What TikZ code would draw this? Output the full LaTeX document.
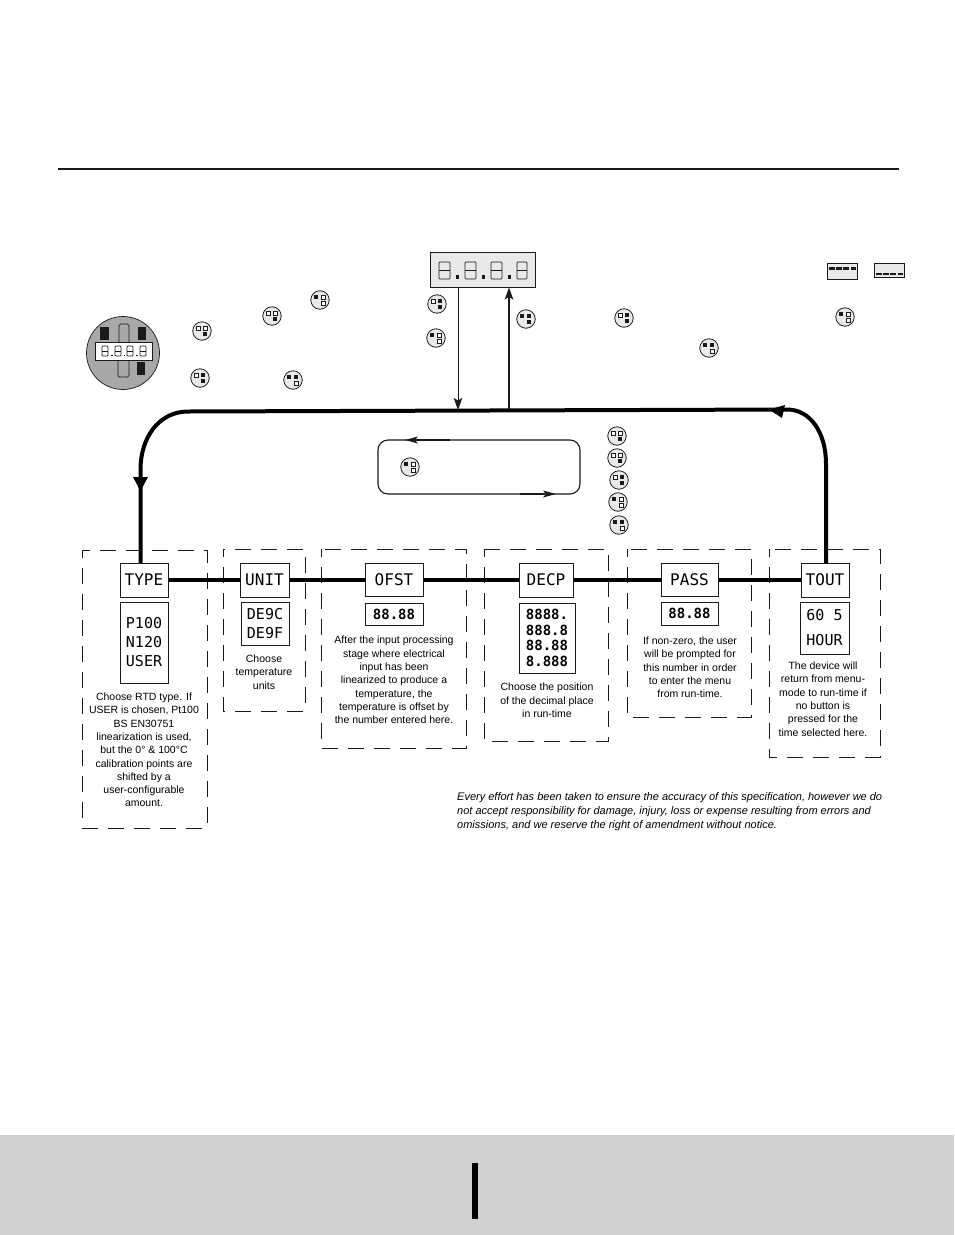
\documentclass[tikz,border=0pt]{standalone}
\usepackage{fontspec}
\setmainfont{Liberation Sans}
\newfontfamily\lcdfont{DejaVu Sans Mono}
\usetikzlibrary{arrows.meta}
\definecolor{panel}{HTML}{E9E9E9}
\definecolor{dial}{HTML}{A8A8A8}
\definecolor{band}{HTML}{D1D1D1}
\definecolor{ink}{HTML}{1A1A1A}
\tikzset{
  ruleline/.style={draw=ink,line width=1.6pt},
  menubox/.style={draw=ink,line width=1pt,inner sep=0pt,font=\lcdfont\fontsize{16}{16}\selectfont},
  valuebox/.style={draw=ink,line width=1pt,inner sep=0pt,align=center,font=\lcdfont\fontsize{15}{19}\selectfont},
  groupbox/.style={draw=ink,line width=.8pt,dash pattern=on 16pt off 10pt,dash phase=8pt},
  note/.style={inner sep=0pt,align=center,text=black,font=\fontsize{10.5}{13.3}\selectfont},
  flow/.style={draw=black,line width=4pt},
  solidtip/.style={-{Stealth[length=12pt,width=8.5pt,inset=2.5pt]}},
  keyring/.style={draw=ink,line width=.8pt,fill=panel},
  keyon/.style={fill=ink},
  keyoff/.style={fill=white,draw=ink,line width=.7pt},
  seg/.style={draw=ink,line width=.75pt},
}
% keypad icon: name, centre, then the state of the upper left, upper right and lower right keys
\newcommand{\keyicon}[6]{%
  \node[keyring,circle,minimum size=18.5pt,inner sep=0pt] (#1) at (#2,#3) {};
  \path[#4] (#2-6,#3-4.7) rectangle (#2-1.7,#3-.8);
  \path[#5] (#2+1.3,#3-4.7) rectangle (#2+5.3,#3-.8);
  \path[#6] (#2+1.3,#3+1.3) rectangle (#2+5.3,#3+5.3);
}
% hollow seven-segment eight: left, top, width, height
\newcommand{\hollowdigit}[4]{%
  \draw[seg,rounded corners=.8pt] (#1,#2) rectangle (#1+#3,#2+#4);
  \draw[seg] (#1,#2+#4/2) -- (#1+#3,#2+#4/2);
}
\begin{document}
\begin{tikzpicture}[x=1pt,y=-1pt]
\useasboundingbox (0,0) rectangle (954,1235);
\fill[white] (0,0) rectangle (954,1235);

% page furniture
\draw[ruleline] (58,169) -- (899,169);
\fill[band] (0,1135) rectangle (954,1235);
\fill[black] (472,1163) rectangle (478,1219);

% main display
\node[draw=ink,fill=panel,line width=.8pt,minimum width=105pt,minimum height=35pt,inner sep=0pt] (display) at (482.5,269.5) {};
\hollowdigit{439}{262}{11}{17}
\hollowdigit{465}{262}{11}{17}
\hollowdigit{491}{262}{11}{17}
\hollowdigit{517}{262}{10}{17}
\fill[ink] (456,275) rectangle (459,279);
\fill[ink] (482,275) rectangle (485,279);
\fill[ink] (508,275) rectangle (511,279);

% segment test displays
\node[draw=ink,fill=panel,line width=.8pt,minimum width=30pt,minimum height=16pt,inner sep=0pt] (testa) at (842,271) {};
\node[draw=ink,fill=panel,line width=.8pt,minimum width=30pt,minimum height=14pt,inner sep=0pt] (testb) at (889,270) {};
\draw[ink,line width=3pt,dash pattern=on 6pt off 1.2pt] (829,268) -- (856,268);
\draw[ink,line width=1.4pt,dash pattern=on 6pt off 1.2pt] (876,274) -- (903,274);

% front panel dial
\node[circle,draw=ink,fill=dial,line width=.7pt,minimum size=73pt,inner sep=0pt] (dialface) at (123,353) {};
\fill[ink] (100,327) rectangle (109,340);
\fill[ink] (138,327) rectangle (146,340);
\fill[ink] (137,362) rectangle (145,375);
\draw[ink,line width=.7pt,rounded corners=1.5pt] (119,324) rectangle (129,344);
\draw[ink,line width=.7pt,rounded corners=1.5pt] (118,358) rectangle (129,377);
\node[draw=ink,fill=white,line width=.8pt,minimum width=57pt,minimum height=18pt,inner sep=0pt] (dialread) at (123.5,351) {};
\hollowdigit{102}{346}{6}{10}
\hollowdigit{115}{346}{6}{10}
\hollowdigit{127}{346}{6}{10}
\hollowdigit{140}{346}{6}{10}
\fill[ink] (111,354.5) rectangle (112.5,356);
\fill[ink] (123.5,354.5) rectangle (125,356);
\fill[ink] (136,354.5) rectangle (137.5,356);

% keypad icons around the displays
\keyicon{ka}{202}{331}{keyoff}{keyoff}{keyon}
\keyicon{kb}{272}{316}{keyoff}{keyoff}{keyon}
\keyicon{kc}{320}{300}{keyon}{keyoff}{keyoff}
\keyicon{kd}{437}{304}{keyoff}{keyon}{keyon}
\keyicon{ke}{436}{338}{keyon}{keyoff}{keyoff}
\keyicon{kf}{200}{378}{keyoff}{keyon}{keyon}
\keyicon{kg}{293}{380}{keyon}{keyon}{keyoff}
\keyicon{kh}{526}{319}{keyon}{keyon}{keyon}
\keyicon{ki}{624}{318}{keyoff}{keyon}{keyon}
\keyicon{kj}{845}{317}{keyon}{keyoff}{keyoff}
\keyicon{kk}{709}{348}{keyon}{keyon}{keyoff}
\keyicon{kl}{410}{467}{keyon}{keyoff}{keyoff}
\keyicon{km}{617}{436}{keyoff}{keyoff}{keyon}
\keyicon{kn}{617}{458}{keyoff}{keyoff}{keyon}
\keyicon{ko}{619}{480}{keyoff}{keyon}{keyon}
\keyicon{kp}{618}{502}{keyon}{keyoff}{keyoff}
\keyicon{kq}{619}{525}{keyon}{keyon}{keyoff}

% dashed groups
\draw[groupbox] (82,550) rectangle (207,828);
\draw[groupbox] (223,549) rectangle (305,711);
\draw[groupbox] (321,549) rectangle (466,748);
\draw[groupbox] (484,549) rectangle (608,741);
\draw[groupbox] (627,549) rectangle (751,717);
\draw[groupbox] (769,549) rectangle (880,757);

% menu parameters
\node[menubox,fill=white,minimum width=48pt,minimum height=34pt] (type) at (144,580) {TYPE};
\node[menubox,fill=white,minimum width=49pt,minimum height=34pt] (unit) at (264.5,580) {UNIT};
\node[menubox,fill=white,minimum width=58pt,minimum height=33pt] (ofst) at (394,580) {OFST};
\node[menubox,fill=white,minimum width=54pt,minimum height=34pt] (decp) at (546,580) {DECP};
\node[menubox,fill=white,minimum width=57pt,minimum height=33pt] (pass) at (689.5,580) {PASS};
\node[menubox,fill=white,minimum width=48pt,minimum height=34pt] (tout) at (825,580) {TOUT};

% main menu loop
\coordinate (entry) at (458,410);
\coordinate (exit) at (509,410);
\coordinate (rightleg) at (826,563);
\coordinate (leftleg) at (140.5,563);
\draw[flow] (type) -- (unit);
\draw[flow] (unit) -- (ofst);
\draw[flow] (ofst) -- (decp);
\draw[flow] (decp) -- (pass);
\draw[flow] (pass) -- (tout);
\draw[flow] (rightleg) -- (826,464) .. controls (826,432) and (810,409.5) .. (787,409.5) -- (188,411.5) .. controls (160,411.5) and (140.5,436) .. (140.5,470) -- (leftleg);
\fill[black] (133,477) -- (148,477) -- (140.5,491) -- cycle;
\fill[black] (785,405) -- (769,409.5) -- (782,418) -- cycle;

% links between the display and the loop
\draw[ink,line width=.9pt,solidtip] (display.south -| entry) -- (entry);
\draw[ink,line width=1.7pt,solidtip] (exit) -- (display.south -| exit);

% run-time loop
\draw[ink,line width=1.1pt,rounded corners=10pt] (378,440) rectangle (580,494);
\draw[ink,line width=1.8pt] (450,440) -- (415,440);
\fill[ink] (405,440) -- (418,436.5) -- (415,440) -- (418,443.5) -- cycle;
\draw[ink,line width=1.4pt] (520,494) -- (545,494);
\fill[ink] (556,494) -- (543,490.5) -- (546,494) -- (543,497.5) -- cycle;

% choices shown for each parameter
\node[valuebox,minimum width=48pt,minimum height=81pt] (typeval) at (144,642.5) {P100\\N120\\USER};
\node[valuebox,minimum width=48pt,minimum height=43pt] (unitval) at (265,623.5) {DE9C\\DE9F};
\node[valuebox,font=\lcdfont\bfseries\fontsize{14}{14}\selectfont,minimum width=58pt,minimum height=22pt] (ofstval) at (394,614) {88.88};
\node[valuebox,font=\lcdfont\bfseries\fontsize{14}{15.5}\selectfont,minimum width=56pt,minimum height=70pt] (decpval) at (547,638) {8888.\\888.8\\88.88\\8.888};
\node[valuebox,font=\lcdfont\bfseries\fontsize{14}{14}\selectfont,minimum width=57pt,minimum height=23pt] (passval) at (689.5,613.5) {88.88};
\node[valuebox,font=\lcdfont\fontsize{15}{25}\selectfont,minimum width=49pt,minimum height=52pt] (toutval) at (824.5,628) {60 5\\HOUR};

% parameter descriptions
\node[note] (typenote) at (144,750) {Choose RTD type. If\\USER is chosen, Pt100\\BS EN30751\\linearization is used,\\but the 0° \& 100°C\\calibration points are\\shifted by a\\user-configurable\\amount.};
\node[note] (unitnote) at (264,672) {Choose\\temperature\\units};
\node[note] (ofstnote) at (394,680) {After the input processing\\stage where electrical\\input has been\\linearized to produce a\\temperature, the\\temperature is offset by\\the number entered here.};
\node[note] (decpnote) at (547,700.5) {Choose the position\\of the decimal place\\in run-time};
\node[note] (passnote) at (690,667.5) {If non-zero, the user\\will be prompted for\\this number in order\\to enter the menu\\from run-time.};
\node[note] (toutnote) at (823,699) {The device will\\return from menu-\\mode to run-time if\\no button is\\pressed for the\\time selected here.};

% disclaimer
\node[inner sep=0pt,align=left,anchor=west,text=black,font=\itshape\fontsize{11}{14}\selectfont] (disclaimer) at (457,811.5) {Every effort has been taken to ensure the accuracy of this specification, however we do\\not accept responsibility for damage, injury, loss or expense resulting from errors and\\omissions, and we reserve the right of amendment without notice.};
\end{tikzpicture}
\end{document}
